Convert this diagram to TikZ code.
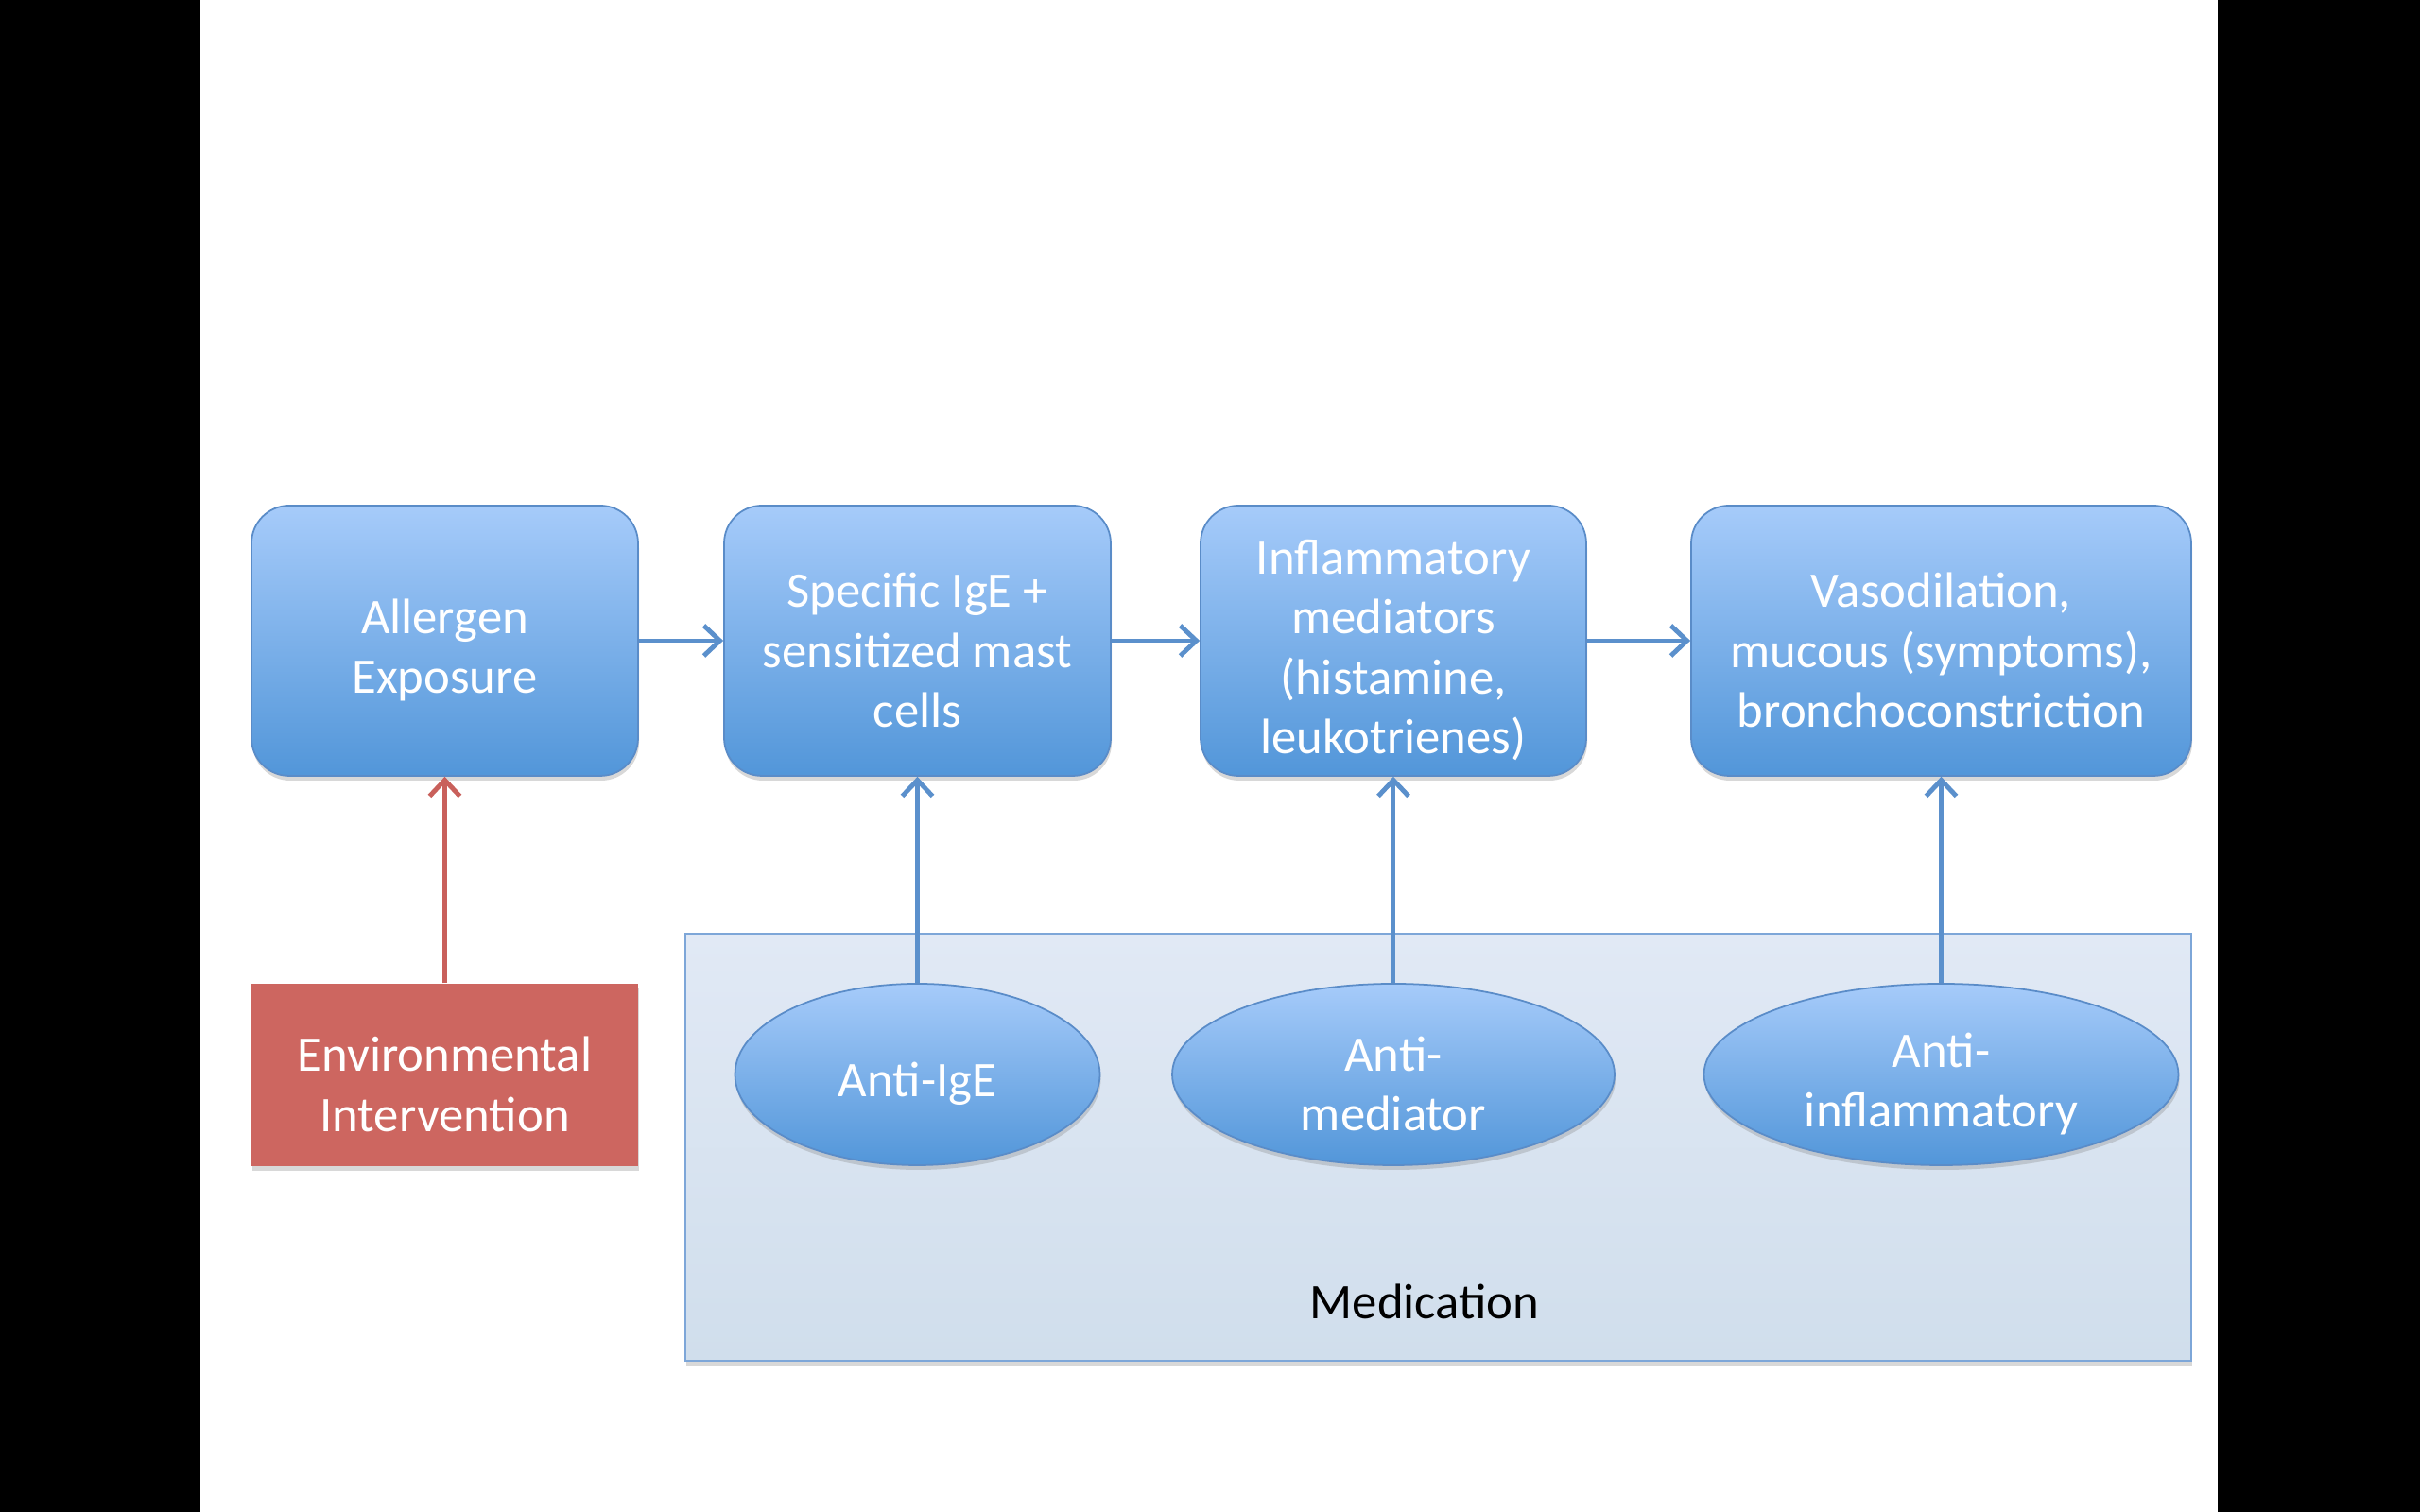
\documentclass[tikz,border=0pt]{standalone}
\usepackage{fontspec}
\setmainfont{Carlito}
\usepackage{xcolor}
\usepackage{tikz}
\usetikzlibrary{positioning, shapes.geometric, shadows, arrows.meta}

\definecolor{boxtop}{HTML}{A6CBFA}
\definecolor{boxbot}{HTML}{5296D9}
\definecolor{boxline}{HTML}{5A8CC8}
\definecolor{envfill}{HTML}{CD6660}
\definecolor{envline}{HTML}{C9605B}
\definecolor{medtop}{HTML}{E1E9F5}
\definecolor{medbot}{HTML}{D0DEEC}
\definecolor{medline}{HTML}{7DA6D8}
\definecolor{flowline}{HTML}{5B90CC}

% lower the text a little inside its shape
\newcommand{\lowerstart}{\setbox0=\hbox\bgroup}
\newcommand{\lowerend}{\egroup\ht0=\dimexpr\ht0+0.2cm\relax\box0}

\begin{document}
\begin{tikzpicture}
					\tikzstyle{shade}=[drop shadow={shadow xshift=0.01, shadow yshift=-0.05, opacity=0.3}]
					\tikzstyle{label text}=[text=white, align=center, inner sep=0pt, font=\fontsize{15}{18}\selectfont, execute at begin node=\lowerstart, execute at end node=\lowerend]
					\tikzstyle{stage}=[rounded corners=0.4cm, draw=boxline, line width=0.5pt, top color=boxtop, bottom color=boxbot, minimum height=2.86cm, label text, shade]
					\tikzstyle{drug}=[ellipse, draw=boxline, line width=0.5pt, top color=boxtop, bottom color=boxbot, minimum height=1.92cm, label text, shade]
					\tikzstyle{flow}=[draw=flowline, line width=1.4pt, -{Straight Barb[length=0.17cm, width=0.32cm]}]
					\useasboundingbox (0,0) rectangle (25.6,16);
					\fill[white] (0,0) rectangle (25.6,16);
					\fill[black] (0,0) rectangle (2.12,16);
					\fill[black] (23.46,0) rectangle (25.6,16);
					% medication panel
					\draw[medline, line width=0.8pt, top color=medtop, bottom color=medbot, shade] (7.25,1.60) rectangle (23.18,6.12);
					\node(medication) at (15.07,2.23){\fontsize{15}{18}\selectfont Medication};
					% cascade
					\node[stage, minimum width=4.09cm](allergen) at (4.705,9.22){Allergen\\Exposure};
					\node[stage, minimum width=4.09cm](specific) at (9.705,9.22){Specific IgE +\\sensitized mast\\cells};
					\node[stage, minimum width=4.08cm](inflam) at (14.74,9.22){Inflammatory\\mediators\\(histamine,\\leukotrienes)};
					\node[stage, minimum width=5.29cm](vaso) at (20.535,9.22){Vasodilation,\\mucous (symptoms),\\bronchoconstriction};
					% interventions
					\node[fill=envfill, minimum width=4.09cm, minimum height=1.93cm, label text, shade](env) at (4.705,4.625){Environmental\\Intervention};
					\node[drug, minimum width=3.86cm](antige) at (9.705,4.63){Anti-IgE};
					\node[drug, minimum width=4.68cm](antimed) at (14.74,4.63){Anti-\\mediator};
					\node[drug, minimum width=5.02cm](antiinf) at (20.535,4.63){Anti-\\inflammatory};
					\path[flow]
						(allergen) edge node {}(specific)
						(specific) edge node {}(inflam)
						(inflam) edge node {}(vaso)
						(antige) edge node {}(specific)
						(antimed) edge node {}(inflam)
						(antiinf) edge node {}(vaso);
					\path[flow, draw=envline]
						(env) edge node {}(allergen);
				\end{tikzpicture}
\end{document}
